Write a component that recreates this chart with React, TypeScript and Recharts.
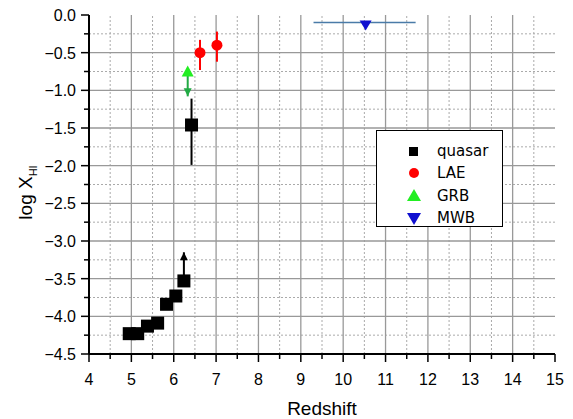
import React from 'react';
import {
  ScatterChart,
  Scatter,
  XAxis,
  YAxis,
  ErrorBar,
  ReferenceLine,
  Legend,
} from 'recharts';

// redshift / log neutral fraction
const quasarZ = [4.95, 5.15, 5.38, 5.62, 5.83, 6.05];
const quasarLogX = [-4.23, -4.23, -4.13, -4.09, -3.84, -3.73];

const quasarLimitZ = [6.24];
const quasarLimitLogX = [-3.53];
const quasarLimitTip = [-3.15];

const quasarErrZ = [6.42];
const quasarErrLogX = [-1.46];
const quasarErrRange: [number, number][] = [[0.53, 0.35]];

const laeZ = [6.62, 7.02];
const laeLogX = [-0.5, -0.4];
const laeErr: [number, number][] = [
  [0.23, 0.17],
  [0.22, 0.18],
];

const grbZ = [6.33];
const grbLogX = [-0.75];
const grbTip = [-1.08];

const mwbZ = [10.53];
const mwbLogX = [-0.1];
const mwbZErr: [number, number][] = [[1.23, 1.18]];

const xTicks = [4, 5, 6, 7, 8, 9, 10, 11, 12, 13, 14, 15];
const xMinor = [4.5, 5.5, 6.5, 7.5, 8.5, 9.5, 10.5, 11.5, 12.5, 13.5, 14.5];
const yTicks = [0, -0.5, -1, -1.5, -2, -2.5, -3, -3.5, -4, -4.5];
const yMinor = [-0.25, -0.75, -1.25, -1.75, -2.25, -2.75, -3.25, -3.75, -4.25];

const legendItems = [
  { name: 'quasar', color: '#000000', kind: 'square' },
  { name: 'LAE', color: '#ff0000', kind: 'circle' },
  { name: 'GRB', color: '#22ee22', kind: 'up' },
  { name: 'MWB', color: '#1010d0', kind: 'down' },
];

const FONT = '"Liberation Sans", Arial, sans-serif';

const allX = [...xTicks, ...xMinor].sort((a, b) => a - b);
const allY = [...yTicks, ...yMinor].sort((a, b) => b - a);

const quasarData = quasarZ.map((z, i) => ({ z, y: quasarLogX[i] }));
const quasarLimitData = quasarLimitZ.map((z, i) => ({
  z,
  y: quasarLimitLogX[i],
  err: [0, quasarLimitTip[i] - quasarLimitLogX[i]],
}));
const quasarTipData = quasarLimitZ.map((z, i) => ({ z, y: quasarLimitTip[i] }));
const quasarErrData = quasarErrZ.map((z, i) => ({ z, y: quasarErrLogX[i], err: quasarErrRange[i] }));
const laeData = laeZ.map((z, i) => ({ z, y: laeLogX[i], err: laeErr[i] }));
const grbData = grbZ.map((z, i) => ({ z, y: grbLogX[i], err: [grbLogX[i] - grbTip[i], 0] }));
const grbTipData = grbZ.map((z, i) => ({ z, y: grbTip[i] }));
const mwbData = mwbZ.map((z, i) => ({ z, y: mwbLogX[i], zerr: mwbZErr[i] }));

const fmt = (v: number) => (v < 0 ? '\u2212' + Math.abs(v).toFixed(1) : v.toFixed(1));

// ticks draw their own tick mark: long for labelled values, short for minor ones
const XTick = ({ x, y, payload }: any) => {
  const major = xTicks.includes(payload.value);
  return (
    <g>
      <line x1={x} x2={x} y1={y} y2={y + (major ? 8 : 5)} stroke="#000" strokeWidth={1.5} />
      {major && (
        <text x={x} y={y + 31} textAnchor="middle" fontSize={16} fill="#000">
          {payload.value}
        </text>
      )}
    </g>
  );
};

const YTick = ({ x, y, payload }: any) => {
  const major = yTicks.includes(payload.value);
  return (
    <g>
      <line x1={x - (major ? 8 : 5)} x2={x} y1={y} y2={y} stroke="#000" strokeWidth={1.5} />
      {major && (
        <text x={x - 13} y={y + 6} textAnchor="end" fontSize={16} fill="#000">
          {fmt(payload.value)}
        </text>
      )}
    </g>
  );
};

const Square = ({ cx, cy }: any) => (
  <rect x={cx - 6.5} y={cy - 6.5} width={13} height={13} fill="#000" />
);
const Circle = ({ cx, cy }: any) => <circle cx={cx} cy={cy} r={5.5} fill="#ff0000" />;
const TriUp = ({ cx, cy }: any) => (
  <polygon points={`${cx},${cy - 6} ${cx - 6},${cy + 5} ${cx + 6},${cy + 5}`} fill="#22ee22" />
);
const TriDown = ({ cx, cy }: any) => (
  <polygon points={`${cx - 6},${cy - 2} ${cx + 6},${cy - 2} ${cx},${cy + 8}`} fill="#1010d0" />
);
const ArrowUp = ({ cx, cy }: any) => (
  <polygon points={`${cx},${cy} ${cx - 4},${cy + 8} ${cx + 4},${cy + 8}`} fill="#000" />
);
const ArrowDown = ({ cx, cy }: any) => (
  <polygon points={`${cx},${cy} ${cx - 4},${cy - 8} ${cx + 4},${cy - 8}`} fill="#22aa44" />
);

const LegendBox = () => (
  <div
    style={{
      width: 127,
      height: 97,
      border: '1.5px solid #000',
      background: '#fff',
      fontFamily: '"DejaVu Sans", sans-serif',
      fontSize: 15,
      boxSizing: 'border-box',
      paddingTop: 9,
    }}
  >
    {legendItems.map((it) => (
      <div key={it.name} style={{ display: 'flex', alignItems: 'center', height: 22.3, lineHeight: '16px' }}>
        <svg width={60} height={16} style={{ flex: 'none' }}>
          {it.kind === 'square' && <rect x={32} y={4} width={9} height={9} fill={it.color} />}
          {it.kind === 'circle' && <circle cx={37} cy={8} r={5} fill={it.color} />}
          {it.kind === 'up' && <polygon points="37,1 30,13 44,13" fill={it.color} />}
          {it.kind === 'down' && <polygon points="30,3 44,3 37,15" fill={it.color} />}
        </svg>
        <span style={{ color: '#000' }}>{it.name}</span>
      </div>
    ))}
  </div>
);

const YLabel = ({ viewBox }: any) => {
  const cy = viewBox.y + viewBox.height / 2 + 8;
  const cx = 32;
  return (
    <text
      transform={`translate(${cx},${cy}) rotate(-90)`}
      textAnchor="middle"
      fontFamily={FONT}
      fontSize={19}
      fill="#000"
    >
      log X
      <tspan fontSize={11} dy={5}>HI</tspan>
    </text>
  );
};

export default function App() {
  return (
    <div style={{ position: 'absolute', left: 0, top: 0, background: '#fff' }}>
      <ScatterChart
        width={573}
        height={419}
        margin={{ top: 15, right: 18, bottom: 0, left: 0 }}
        style={{ fontFamily: FONT }}
      >
        <XAxis
          xAxisId="top"
          orientation="top"
          type="number"
          dataKey="z"
          domain={[4, 15]}
          tick={false}
          tickLine={false}
          height={0}
          axisLine={{ stroke: '#000', strokeWidth: 2 }}
        />
        <YAxis
          yAxisId="right"
          orientation="right"
          type="number"
          dataKey="y"
          domain={[-4.5, 0]}
          tick={false}
          tickLine={false}
          width={0}
          axisLine={{ stroke: '#000', strokeWidth: 2 }}
        />
        <XAxis
          type="number"
          dataKey="z"
          domain={[4, 15]}
          ticks={allX}
          interval={0}
          height={65}
          tickSize={0}
          tickMargin={0}
          tickLine={false}
          tick={<XTick />}
          axisLine={{ stroke: '#000', strokeWidth: 2 }}
          label={{ value: 'Redshift', position: 'insideBottom', offset: 4, fill: '#000', fontSize: 19 }}
        />
        <YAxis
          type="number"
          dataKey="y"
          domain={[-4.5, 0]}
          ticks={allY}
          interval={0}
          width={89}
          tickSize={0}
          tickMargin={0}
          tickLine={false}
          tick={<YTick />}
          axisLine={{ stroke: '#000', strokeWidth: 2 }}
          label={<YLabel />}
        />
        {xMinor.map((v) => (
          <ReferenceLine key={'xm' + v} x={v} stroke="#aaa" strokeDasharray="2 2" />
        ))}
        {yMinor.map((v) => (
          <ReferenceLine key={'ym' + v} y={v} stroke="#aaa" strokeDasharray="2 2" />
        ))}
        {xTicks.slice(1, -1).map((v) => (
          <ReferenceLine key={'x' + v} x={v} stroke="#999" strokeWidth={1.3} />
        ))}
        {yTicks.slice(1, -1).map((v) => (
          <ReferenceLine key={'y' + v} y={v} stroke="#999" strokeWidth={1.3} />
        ))}
        <Legend
          layout="vertical"
          align="center"
          verticalAlign="middle"
          wrapperStyle={{ left: 376, top: 130, width: 127 }}
          content={<LegendBox />}
        />
        <Scatter data={mwbData} shape={TriDown} isAnimationActive={false} legendType="none">
          <ErrorBar dataKey="zerr" direction="x" width={0} stroke="#4a7ba8" strokeWidth={1.5} />
        </Scatter>
        <Scatter data={quasarErrData} shape={Square} isAnimationActive={false} legendType="none">
          <ErrorBar dataKey="err" direction="y" width={0} stroke="#000" strokeWidth={2} />
        </Scatter>
        <Scatter data={quasarLimitData} shape={Square} isAnimationActive={false} legendType="none">
          <ErrorBar dataKey="err" direction="y" width={0} stroke="#000" strokeWidth={2} />
        </Scatter>
        <Scatter data={quasarTipData} shape={ArrowUp} isAnimationActive={false} legendType="none" />
        <Scatter data={quasarData} shape={Square} isAnimationActive={false} legendType="none" />
        <Scatter data={grbData} shape={TriUp} isAnimationActive={false} legendType="none">
          <ErrorBar dataKey="err" direction="y" width={0} stroke="#22aa44" strokeWidth={2} />
        </Scatter>
        <Scatter data={grbTipData} shape={ArrowDown} isAnimationActive={false} legendType="none" />
        <Scatter data={laeData} shape={Circle} isAnimationActive={false} legendType="none">
          <ErrorBar dataKey="err" direction="y" width={0} stroke="#ff0000" strokeWidth={2} />
        </Scatter>
      </ScatterChart>
    </div>
  );
}
